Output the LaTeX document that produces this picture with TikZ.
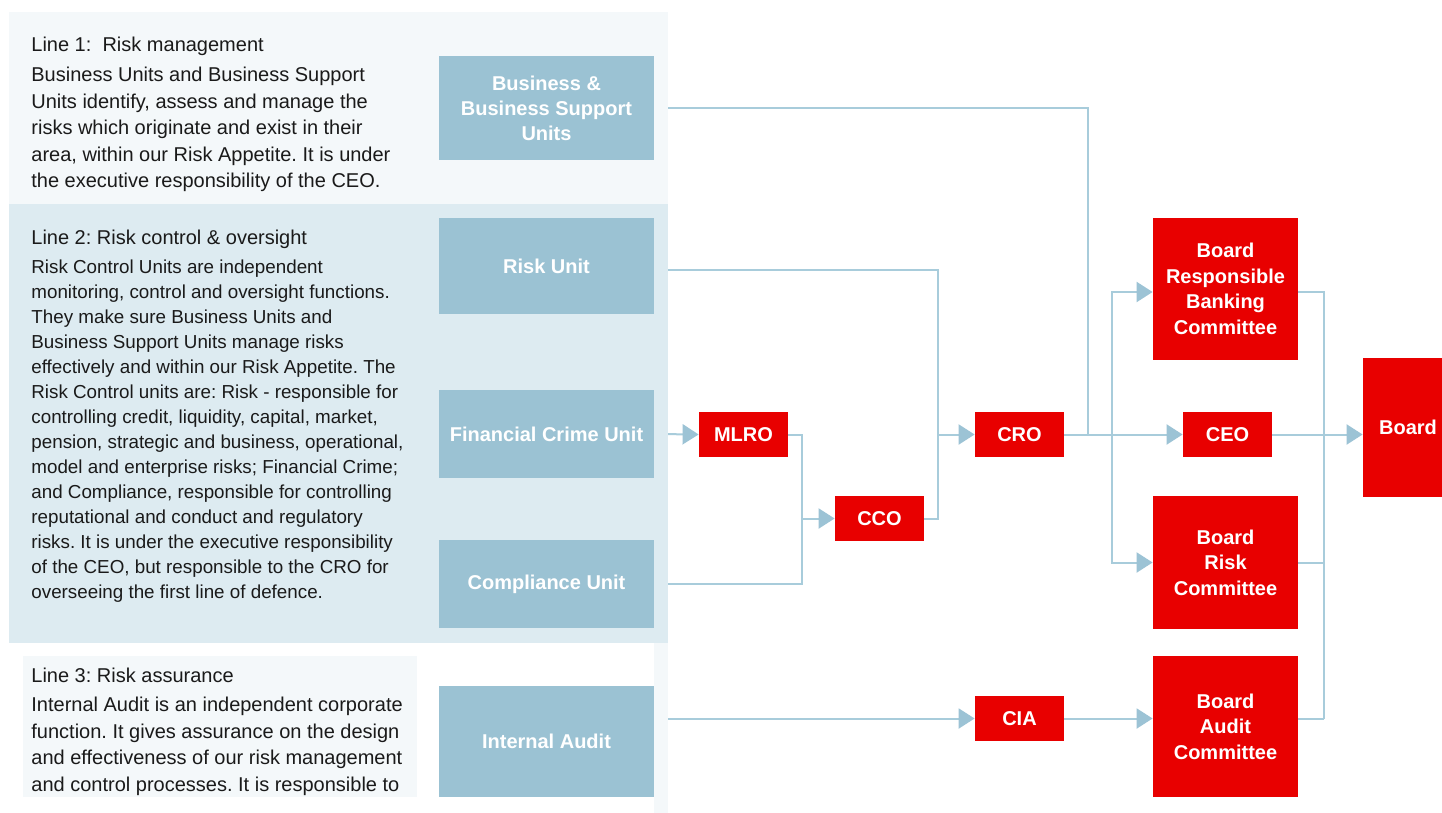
\documentclass[tikz,border=0pt]{standalone}
\usepackage{fontspec}
\setmainfont{Liberation Sans}
\usetikzlibrary{arrows.meta}
\definecolor{panelA}{HTML}{F4F8FA}
\definecolor{panelB}{HTML}{DDEBF1}
\definecolor{boxblue}{HTML}{9BC2D3}
\definecolor{boxred}{HTML}{E80000}
\definecolor{lineblue}{HTML}{A8CCDB}
\definecolor{tipblue}{HTML}{9CC3D5}
\definecolor{txt}{HTML}{1A1A1A}
\pgfdeclarelayer{bg}
\pgfdeclarelayer{lines}
\pgfdeclarelayer{panels}
\pgfsetlayers{bg,lines,panels,main}
\frenchspacing
\begin{document}
\begin{tikzpicture}[x=0.5pt,y=-0.5pt,
  bluebox/.style={fill=boxblue,text=white,inner sep=0pt,align=center,font=\fontsize{10}{12.5}\selectfont\bfseries},
  redbox/.style={fill=boxred,text=white,inner sep=0pt,align=center,font=\fontsize{10}{12.75}\selectfont\bfseries},
  smallred/.style={redbox,minimum width=44.5pt,minimum height=22.5pt},
  bigred/.style={redbox,minimum width=72.5pt},
  conn/.style={draw=lineblue,line width=1pt},
  arr/.style={conn,-{Triangle[length=8pt,width=10pt,fill=tipblue,color=tipblue]}},
  titletext/.style={anchor=base west,inner sep=0pt,text=txt,font=\fontsize{10}{13.25}\selectfont},
  bodytext/.style={anchor=north west,inner sep=0pt,align=left,text=txt}]
\useasboundingbox (0,0) rectangle (1442,813);
\begin{pgfonlayer}{bg}
\fill[white] (0,0) rectangle (1442,813);
\end{pgfonlayer}
\begin{pgfonlayer}{panels}
\fill[panelA] (9,12) rectangle (668,204);
\fill[panelB] (9,204) rectangle (668,643);
\fill[panelA] (23,656) rectangle (417,797);
\fill[panelA] (654,643) rectangle (668,813);
\end{pgfonlayer}

% left texts
\node[titletext] (t1) at (31,52) {Line 1:\ \ Risk management};
\node[bodytext,font=\fontsize{10}{13.25}\selectfont] (b1) at (31,67) {Business Units and Business Support\\Units identify, assess and manage the\\risks which originate and exist in their\\area, within our Risk Appetite. It is under\\the executive responsibility of the CEO.};
\node[titletext] (t2) at (31,244) {Line 2: Risk control \& oversight};
\node[bodytext,font=\fontsize{9.4}{12.5}\selectfont] (b2) at (31,259) {Risk Control Units are independent\\monitoring, control and oversight functions.\\They make sure Business Units and\\Business Support Units manage risks\\effectively and within our Risk Appetite. The\\Risk Control units are: Risk - responsible for\\controlling credit, liquidity, capital, market,\\pension, strategic and business, operational,\\model and enterprise risks; Financial Crime;\\and Compliance, responsible for controlling\\reputational and conduct and regulatory\\risks. It is under the executive responsibility\\of the CEO, but responsible to the CRO for\\overseeing the first line of defence.};
\node[titletext] (t3) at (31,682) {Line 3: Risk assurance};
\node[bodytext,font=\fontsize{10}{13.25}\selectfont] (b3) at (31,697) {Internal Audit is an independent corporate\\function. It gives assurance on the design\\and effectiveness of our risk management\\and control processes. It is responsible to};

% blue unit boxes
\node[bluebox,minimum width=107.5pt,minimum height=52pt] (bus) at (546.5,108) {Business \&\\Business Support\\Units};
\node[bluebox,minimum width=107.5pt,minimum height=48pt] (risk) at (546.5,266) {Risk Unit};
\node[bluebox,minimum width=107.5pt,minimum height=44pt] (fcu) at (546.5,434) {Financial Crime Unit};
\node[bluebox,minimum width=107.5pt,minimum height=44pt] (comp) at (546.5,584) {Compliance Unit};
\node[bluebox,minimum width=107.5pt,minimum height=55.5pt] (ia) at (546.5,741.5) {Internal Audit};

% red boxes
\node[smallred] (mlro) at (743.5,434.5) {MLRO};
\node[smallred] (cco) at (879.5,518.5) {CCO};
\node[smallred] (cro) at (1019.5,434.5) {CRO};
\node[smallred] (ceo) at (1227.5,434.5) {CEO};
\node[smallred] (cia) at (1019.5,718.5) {CIA};
\node[bigred,minimum height=70.5pt] (brbc) at (1225.5,289) {Board\\Responsible\\Banking\\Committee};
\node[bigred,minimum height=66.5pt] (brc) at (1225.5,562.5) {Board\\Risk\\Committee};
\node[bigred,minimum height=70.5pt] (bac) at (1225.5,726.5) {Board\\Audit\\Committee};
\node[redbox,minimum width=39.5pt,minimum height=69.5pt] (board) at (1402.5,427.5) {\hspace*{5.5pt}Board};

% junctions
\coordinate (jb) at (1088,434.5);
\coordinate (jr) at (938,434.5);
\coordinate (jc) at (802,518.5);
\coordinate (jm) at (1112,434.5);
\coordinate (jd) at (1324,718.5);

\begin{pgfonlayer}{lines}
\draw[conn] (bus.east) -| (jb);
\draw[conn] ([yshift=-2pt]risk.east) -| (jr);
\draw[conn] (cco.east) -| (jr);
\draw[arr] (jr) -- (cro.west);
\draw[arr] (fcu.east) -- (mlro.west);
\draw[conn] (mlro.east) -| (jc);
\draw[conn] (comp.east) -| (jc);
\draw[arr] (jc) -- (cco.west);
\draw[arr] (cro.east) -- (ceo.west);
\draw[arr] (jm) |- ([yshift=-1.5pt]brbc.west);
\draw[arr] (jm) |- (brc.west);
\draw[arr] (ceo.east) -- (ceo.east -| board.west);
\draw[conn] ([yshift=-1.5pt]brbc.east) -| (jd);
\draw[conn] (brc.east) -- (brc.east -| jd);
\draw[conn] (jd) -- (jd -| bac.east);
\draw[arr] (ia.east |- cia.west) -- (cia.west);
\draw[arr] (cia.east) -- (cia.east -| bac.west);
\end{pgfonlayer}
\end{tikzpicture}
\end{document}
